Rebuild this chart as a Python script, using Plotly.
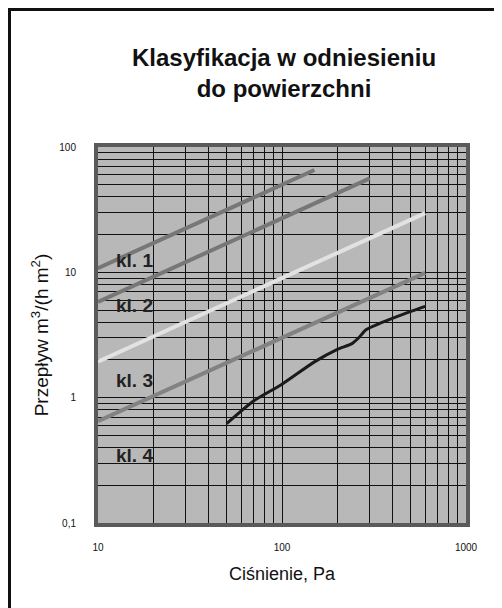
import numpy as np
import plotly.graph_objects as go

# Class lines (EN 12207 style): pressure [Pa] and flow [m3/(h m2)]
kl1_p = [10, 150]
kl1_q = [10.8, 65.5]
kl2_p = [10, 300]
kl2_q = [5.8, 56.2]
kl3_p = [10, 600]
kl3_q = [1.94, 29.7]
kl4_p = [10, 600]
kl4_q = [0.65, 9.9]

# Measured curve
meas_p = [50, 70, 100, 150, 200, 240, 262, 285, 350, 450, 600]
meas_q = [0.62, 0.94, 1.28, 1.93, 2.43, 2.70, 3.02, 3.47, 3.98, 4.6, 5.35]

class_labels = ["kl. 1", "kl. 2", "kl. 3", "kl. 4"]
label_q = [12.5, 5.48, 1.375, 0.345]

x_grid = [10, 20, 30, 40, 50, 60, 70, 80, 90, 100, 200, 300, 400, 500, 600, 700, 800, 900, 1000]
x_text = ["10", "", "", "", "", "", "", "", "", "100", "", "", "", "", "", "", "", "", "1000"]
y_grid = [0.1, 0.2, 0.3, 0.4, 0.5, 0.6, 0.7, 0.8, 0.9, 1, 2, 3, 4, 5, 6, 7, 8, 9, 10,
          20, 30, 40, 50, 60, 70, 80, 90, 100]
y_text = ["0,1"] + [""] * 8 + ["1"] + [""] * 8 + ["10"] + [""] * 8 + ["100"]

# page is offset by the 8px body margin; figure coords = page coords - 8
W, H = 502, 608
OFF = 8
L, R, T, B = 98 - OFF, 44, 147 - OFF, 93
PW, PH = W - L - R, H - T - B

def px_x(fx):
    return (fx - L) / PW

def px_y(fy):
    return (H - B - fy) / PH

fig = go.Figure()
fig.add_trace(go.Scatter(x=kl1_p, y=kl1_q, mode="lines", line=dict(color="#777777", width=4)))
fig.add_trace(go.Scatter(x=kl2_p, y=kl2_q, mode="lines", line=dict(color="#777777", width=4)))
fig.add_trace(go.Scatter(x=kl3_p, y=kl3_q, mode="lines", line=dict(color="#e2e2e2", width=4)))
fig.add_trace(go.Scatter(x=kl4_p, y=kl4_q, mode="lines", line=dict(color="#828282", width=4)))
fig.add_trace(go.Scatter(x=meas_p, y=meas_q, mode="lines", line=dict(color="#1a1a1a", width=3, shape="spline", smoothing=0.6)))

for t, q in zip(class_labels, label_q):
    fig.add_annotation(x=np.log10(12.2), y=np.log10(q), xref="x", yref="y", text="<b>" + t + "</b>",
                       showarrow=False, xanchor="left", yanchor="middle",
                       font=dict(family="Liberation Sans, Arial", size=19, color="#222222"))

# outer frame (top and left edges visible)
fig.add_shape(type="line", xref="paper", yref="paper", x0=px_x(0), x1=px_x(520), y0=px_y(1.5), y1=px_y(1.5),
              line=dict(color="#111111", width=3))
fig.add_shape(type="line", xref="paper", yref="paper", x0=px_x(1.5), x1=px_x(1.5), y0=px_y(0), y1=px_y(620),
              line=dict(color="#111111", width=3))

fig.update_layout(
    width=W, height=H,
    margin=dict(l=L, r=R, t=T, b=B, autoexpand=False),
    paper_bgcolor="white",
    plot_bgcolor="#b8b8b8",
    showlegend=False,
    title=dict(text="<b>Klasyfikacja w odniesieniu<br>do powierzchni</b>",
               x=(284 - OFF) / W, xanchor="center", xref="container",
               y=1 - (74 - 2 * OFF) / H, yanchor="middle", yref="container",
               font=dict(family="Liberation Sans, Arial", size=24, color="#111111")),
    xaxis=dict(type="log", range=[1, 3], tickvals=x_grid, ticktext=x_text,
               showgrid=True, gridcolor="#111111", gridwidth=1, automargin=False,
               showline=True, mirror=True, linecolor="#5a5a5a", linewidth=4,
               ticks="", ticklabelstandoff=12, zeroline=False,
               tickfont=dict(family="Liberation Sans, Arial", size=10, color="#111111"),
               title=dict(text="Ciśnienie, Pa", standoff=16,
                          font=dict(family="Liberation Sans, Arial", size=18, color="#111111"))),
    yaxis=dict(type="log", range=[-1, 2], tickvals=y_grid, ticktext=y_text,
               showgrid=True, gridcolor="#111111", gridwidth=1, automargin=False,
               showline=True, mirror=True, linecolor="#5a5a5a", linewidth=4,
               ticks="", ticklabelstandoff=16, zeroline=False,
               tickfont=dict(family="Liberation Sans, Arial", size=10, color="#111111"),
               title=dict(text="Przepływ m<sup>3</sup>/(h m<sup>2</sup>)", standoff=7,
                          font=dict(family="Liberation Sans, Arial", size=19, color="#111111"))),
)

fig.write_html("out.html")
